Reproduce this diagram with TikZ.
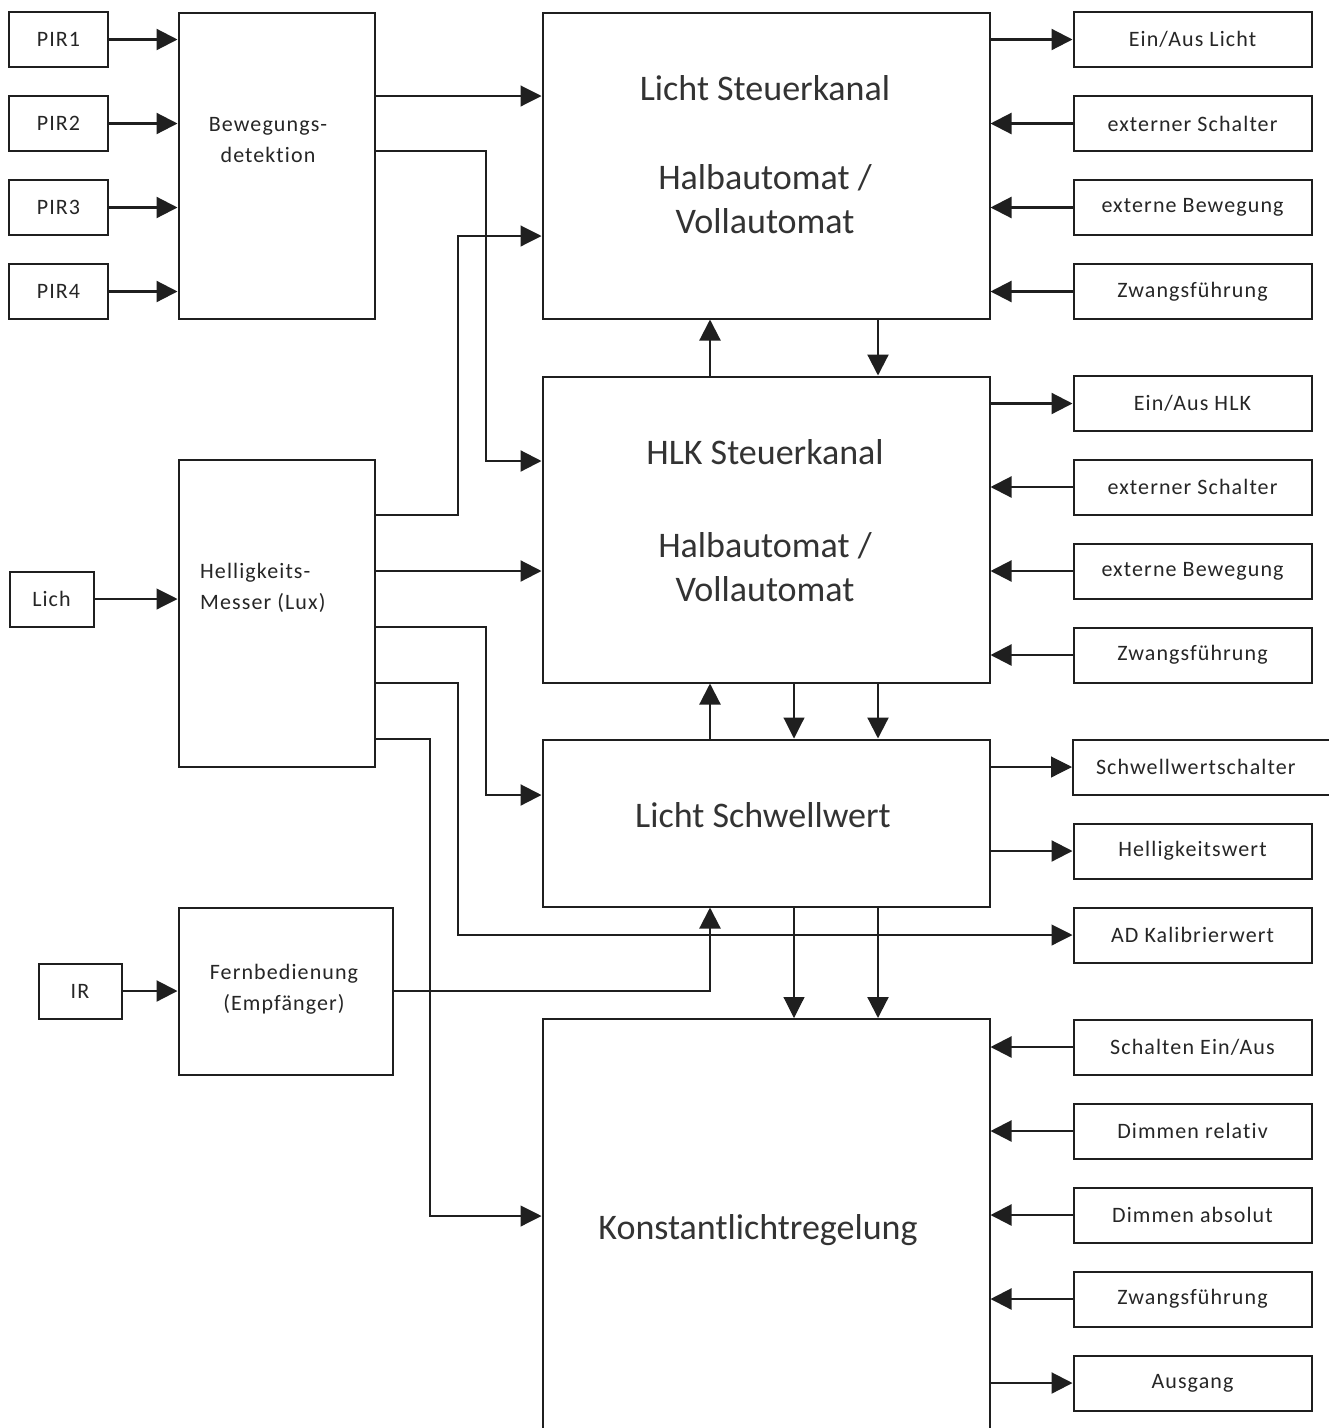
\documentclass[tikz,border=0pt]{standalone}
\usepackage{fontspec}
\setmainfont[Ligatures=NoCommon]{Carlito}
\newfontfamily\lblfont[LetterSpace=5,Ligatures=NoCommon]{Carlito}
\usetikzlibrary{arrows.meta}
\begin{document}
\begin{tikzpicture}[x=1pt,y=-1pt,line join=miter,
  box/.style={draw=black!88, line width=2pt, inner sep=0pt, align=center,
              font=\lblfont\fontsize{22}{31}\selectfont, text=black!85},
  sbox/.style={box, minimum width=99pt, minimum height=55pt},
  rbox/.style={box, minimum width=238pt, minimum height=55pt},
  bigbox/.style={box, minimum width=447pt},
  big/.style={inner sep=0pt, align=center, font=\fontsize{36}{44}\selectfont, text=black!80},
  lbl/.style={inner sep=0pt, font=\lblfont\fontsize{22}{31}\selectfont, text=black!85},
  tip/.style={-{Triangle[length=21pt,width=21pt]}},
  thk/.style={tip, line width=2.2pt, draw=black!88},
  thn/.style={tip, line width=1.1pt, draw=black!88},
]
\useasboundingbox (0,0) rectangle (1329,1428);
\fill[white] (0,0) rectangle (1329,1428);

% left column
\node[sbox] (pir1) at (58.5,39.5) {PIR1};
\node[sbox] (pir2) at (58.5,123.5) {PIR2};
\node[sbox] (pir3) at (58.5,207.5) {PIR3};
\node[sbox] (pir4) at (58.5,291.5) {PIR4};
\node[box, minimum width=196pt, minimum height=306pt] (bew) at (276.5,165.5) {};
\node[lbl, align=center] (bewt) at (268,140) {Bewegungs-\\detektion};

\node[box, minimum width=196pt, minimum height=307pt] (hel) at (276.5,613) {};
\node[lbl, align=left, anchor=west] (helt) at (200,588) {Helligkeits-\\Messer (Lux)};
\node[box, minimum width=84pt, minimum height=55pt] (lich) at (51.5,599) {Lich};

\node[box, minimum width=83pt, minimum height=55pt] (ir) at (80,991) {IR};
\node[box, minimum width=214pt, minimum height=167pt] (fern) at (285.5,991) {};
\node[lbl, align=center] (fernt) at (284,989) {Fernbedienung\\(Empfänger)};

% central column
\node[bigbox, minimum height=306pt] (licht) at (766,165.5) {};
\node[big] (lichtt1) at (765,88) {Licht Steuerkanal};
\node[big] (lichtt2) at (765,199) {Halbautomat /\\Vollautomat};
\node[bigbox, minimum height=306pt] (hlk) at (766,529.5) {};
\node[big] (hlkt1) at (765,452) {HLK Steuerkanal};
\node[big] (hlkt2) at (765,567) {Halbautomat /\\Vollautomat};
\node[bigbox, minimum height=167pt] (schw) at (766,823) {};
\node[big] (schwt) at (763,815) {Licht Schwellwert};
\node[bigbox, minimum height=440pt] (konst) at (766,1239) {};
\node[big] (konstt) at (758,1230) {Konstantlichtregelung};

% right column
\node[rbox] (o1) at (1192.5,39.5) {Ein/Aus Licht};
\node[rbox] (i1) at (1192.5,123.5) {externer Schalter};
\node[rbox] (i2) at (1192.5,207.5) {externe Bewegung};
\node[rbox] (i3) at (1192.5,291.5) {Zwangsführung};
\node[rbox] (o2) at (1192.5,403.5) {Ein/Aus HLK};
\node[rbox] (i4) at (1192.5,487) {externer Schalter};
\node[rbox] (i5) at (1192.5,571) {externe Bewegung};
\node[rbox] (i6) at (1192.5,655) {Zwangsführung};
\node[box, minimum width=268pt, minimum height=55pt, text width=250pt, align=left] (o3) at (1207,767) {\hspace{14pt}Schwellwertschalter};
\node[rbox] (o4) at (1192.5,851) {Helligkeitswert};
\node[rbox] (ad) at (1192.5,935) {AD Kalibrierwert};
\node[rbox] (i7) at (1192.5,1047) {Schalten Ein/Aus};
\node[rbox] (i8) at (1192.5,1131) {Dimmen relativ};
\node[rbox] (i9) at (1192.5,1215) {Dimmen absolut};
\node[rbox] (i10) at (1192.5,1299) {Zwangsführung};
\node[rbox] (o5) at (1192.5,1383) {Ausgang};

% left connectors
\foreach \p in {pir1,pir2,pir3,pir4} \draw[thk] (\p) -- (\p -| bew.west);
\draw[thn] (bew.east |- 0,96) -- (licht.west |- 0,96);
\draw[thk] (bew.east |- 0,151) -| (486,461) -- (hlk.west |- 0,461);
\draw[thn] (hel.east |- 0,515) -| (458,236) -- (licht.west |- 0,236);
\draw[thk] (hel.east |- 0,571) -- (hlk.west |- 0,571);
\draw[thk] (hel.east |- 0,627) -| (486,795) -- (schw.west |- 0,795);
\draw[thn] (hel.east |- 0,683) -| (458,935) -- (ad);
\draw[thn] (hel.east |- 0,739) -| (430,1216) -- (konst.west |- 0,1216);
\draw[thn] (lich) -- (lich -| hel.west);
\draw[thk] (ir) -- (ir -| fern.west);
\draw[thk] (fern.east) -| (schw.south -| 710,0);

% vertical connectors between central blocks
\draw[thk] (hlk.north -| 710,0) -- (licht.south -| 710,0);
\draw[thk] (licht.south -| 878,0) -- (hlk.north -| 878,0);
\draw[thk] (schw.north -| 710,0) -- (hlk.south -| 710,0);
\draw[thn] (hlk.south -| 794,0) -- (schw.north -| 794,0);
\draw[thk] (hlk.south -| 878,0) -- (schw.north -| 878,0);
\draw[thn] (schw.south -| 794,0) -- (konst.north -| 794,0);
\draw[thk] (schw.south -| 878,0) -- (konst.north -| 878,0);

% right connectors
\draw[thk] (licht.east |- o1) -- (o1);
\foreach \i in {i1,i2,i3} \draw[thk] (\i) -- (licht.east |- \i);
\draw[thk] (hlk.east |- o2) -- (o2);
\foreach \i in {i4,i5,i6} \draw[thk] (\i) -- (hlk.east |- \i);
\draw[thn] (schw.east |- o3) -- (o3.west);
\draw[thk] (schw.east |- o4) -- (o4);
\foreach \i in {i7,i8,i9,i10} \draw[thk] (\i) -- (konst.east |- \i);
\draw[thk] (konst.east |- o5) -- (o5);
\end{tikzpicture}
\end{document}
